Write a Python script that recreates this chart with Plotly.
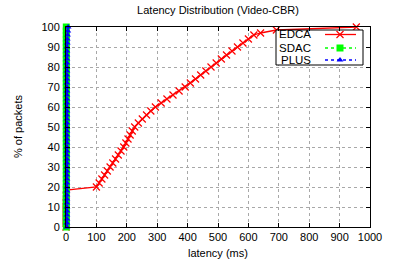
import plotly.graph_objects as go

# ---- data ----
edca_pct = [0, 2, 4, 6, 8, 10, 12, 14, 16, 18.5,
            20, 22, 24, 26, 28, 30, 32, 34, 36, 38, 40, 42, 44, 46, 48, 50,
            52, 54, 56, 58, 60, 62, 64, 66, 68, 70, 72, 74, 76, 78, 80,
            82, 84, 86, 88, 90, 92, 94, 96, 97, 98.5, 100]
edca_lat = [0, 0, 0, 0, 0, 0, 0, 1, 1, 1,
            100, 109, 118, 127, 136, 145, 154, 163, 172, 181, 190, 197, 204, 211, 218, 226,
            238, 251, 265, 279, 294, 313, 332, 352, 372, 392, 409, 426, 443, 460, 477,
            494, 511, 528, 546, 564, 582, 600, 618, 640, 692, 955]

sdac_pct = [0, 2, 4, 6, 8, 10, 12, 14, 16, 18, 20, 22, 24, 26, 28, 30, 32, 34, 36, 38,
            40, 42, 44, 46, 48, 50, 52, 54, 56, 58, 60, 62, 64, 66, 68, 70, 72, 74, 76, 78,
            80, 82, 84, 86, 88, 90, 92, 94, 96, 98, 100]
sdac_lat = [1, 1, 1, 1, 1, 1, 1, 1, 1, 1, 1, 1, 1, 1, 1, 1, 1, 1, 1, 1,
            1, 1, 1, 1, 1, 1, 1, 1, 1, 1, 1, 1, 1, 1, 1, 1, 1, 1, 1, 1,
            1, 1, 1, 1, 1, 1, 1, 1, 1, 1, 1]

plus_pct = [0, 2, 4, 6, 8, 10, 12, 14, 16, 18, 20, 22, 24, 26, 28, 30, 32, 34, 36, 38,
            40, 42, 44, 46, 48, 50, 52, 54, 56, 58, 60, 62, 64, 66, 68, 70, 72, 74, 76, 78,
            80, 82, 84, 86, 88, 90, 92, 94, 96, 98, 100]
plus_lat = [3, 3, 3, 3, 3, 3, 3, 3, 3, 3, 3, 3, 3, 3, 3, 3, 3, 3, 3, 3,
            3, 3, 3, 3, 3, 3, 3, 3, 3, 3, 3, 3, 3, 3, 3, 3, 3, 3, 3, 3,
            3, 3, 3, 3, 3, 3, 4, 4, 5, 6, 7]

x_ticks = [0, 100, 200, 300, 400, 500, 600, 700, 800, 900, 1000]
y_ticks = [0, 10, 20, 30, 40, 50, 60, 70, 80, 90, 100]

series_names = ["EDCA", "SDAC", "PLUS"]

# ---- styles ----
RED = "#ff0000"
GREEN = "#00ff00"
BLUE = "#0000ff"
FONT = "Liberation Sans, Arial, sans-serif"

W, H = 393, 261
L, R, T, B = 66, 23, 27, 34
PW, PH = W - L - R, H - T - B

fig = go.Figure()

fig.add_trace(go.Scatter(
    x=edca_lat, y=edca_pct, mode="lines+markers", name=series_names[0],
    line=dict(color=RED, width=1.3),
    marker=dict(symbol="x-thin", size=7, line=dict(color=RED, width=1.2), color=RED),
    cliponaxis=False, showlegend=False))
fig.add_trace(go.Scatter(
    x=sdac_lat, y=sdac_pct, mode="lines+markers", name=series_names[1],
    line=dict(color=GREEN, width=1.3, dash="dot"),
    marker=dict(symbol="square", size=7, color=GREEN),
    cliponaxis=False, showlegend=False))
fig.add_trace(go.Scatter(
    x=plus_lat, y=plus_pct, mode="lines+markers", name=series_names[2],
    line=dict(color=BLUE, width=1.3, dash="dot"),
    marker=dict(symbol="triangle-up", size=6, color=BLUE),
    cliponaxis=False, showlegend=False))

# ---- custom gnuplot-style key (overlay axes in paper fractions) ----
bx0, bx1 = (276 - L) / PW, (363 - L) / PW
by0, by1 = (H - B - 65) / PH, (H - B - 30) / PH
fig.add_trace(go.Scatter(
    x=[bx0, bx1, bx1, bx0, bx0], y=[by0, by0, by1, by1, by0],
    xaxis="x2", yaxis="y2", mode="lines", fill="toself", fillcolor="white",
    line=dict(color="black", width=1), hoverinfo="skip", showlegend=False,
    cliponaxis=False))
rows = [(H - B - 34.5) / PH, (H - B - 48) / PH, (H - B - 60) / PH]
sx0, sx1, sxm = (325 - L) / PW, (356 - L) / PW, (340 - L) / PW
styles = [
    dict(line=dict(color=RED, width=1.3),
         marker=dict(symbol="x-thin", size=7, line=dict(color=RED, width=1.2), color=RED)),
    dict(line=dict(color=GREEN, width=1.3, dash="dot"),
         marker=dict(symbol="square", size=7, color=GREEN)),
    dict(line=dict(color=BLUE, width=1.3, dash="dot"),
         marker=dict(symbol="triangle-up", size=6, color=BLUE)),
]
for ry, st in zip(rows, styles):
    fig.add_trace(go.Scatter(x=[sx0, sx1], y=[ry, ry], xaxis="x2", yaxis="y2",
                             mode="lines", line=st["line"], hoverinfo="skip", showlegend=False))
    fig.add_trace(go.Scatter(x=[sxm], y=[ry], xaxis="x2", yaxis="y2",
                             mode="markers", marker=st["marker"], hoverinfo="skip",
                             showlegend=False, cliponaxis=False))

annotations = []
tx = (313 - L) / PW
for name, ry in zip(series_names, rows):
    annotations.append(dict(x=tx, y=ry, xref="paper", yref="paper", text=name,
                            showarrow=False, xanchor="right", yanchor="middle",
                            font=dict(family=FONT, size=11.5, color="black")))
annotations.append(dict(x=0.5, y=(H - B - 253) / PH, xref="paper", yref="paper",
                        text="latency (ms)", showarrow=False, xanchor="center",
                        yanchor="middle", font=dict(family=FONT, size=11, color="black")))
annotations.append(dict(x=(18 - L) / PW, y=0.5, xref="paper", yref="paper",
                        text="% of packets", showarrow=False, textangle=-90,
                        xanchor="center", yanchor="middle",
                        font=dict(family=FONT, size=11, color="black")))

axis_common = dict(showline=True, linecolor="black", linewidth=1, mirror="ticks",
                   ticks="inside", ticklen=4, tickcolor="black", tickwidth=1,
                   showgrid=True, gridcolor="#a8a8a8", griddash="dot", gridwidth=1,
                   zeroline=False, tickfont=dict(family=FONT, size=11, color="black"))

fig.update_layout(
    width=W, height=H,
    margin=dict(l=L, r=R, t=T, b=B, autoexpand=False),
    paper_bgcolor="white", plot_bgcolor="white",
    title=dict(text="Latency Distribution (Video-CBR)", x=0.5, xref="paper",
               y=1 - 10 / H, yref="container", xanchor="center", yanchor="middle",
               font=dict(family=FONT, size=11, color="black")),
    xaxis=dict(range=[0, 1000], tickvals=x_ticks, ticktext=[str(v) for v in x_ticks],
               **axis_common),
    yaxis=dict(range=[0, 100], tickvals=y_ticks, ticktext=[str(v) for v in y_ticks],
               ticklabelstandoff=3, **axis_common),
    xaxis2=dict(overlaying="x", range=[0, 1], visible=False, domain=[0, 1]),
    yaxis2=dict(overlaying="y", range=[0, 1], visible=False, domain=[0, 1]),
    annotations=annotations,
    showlegend=False,
    hovermode=False,
)

fig.write_html("out.html", config=dict(displayModeBar=False, staticPlot=True),
               post_script="document.body.style.margin='0';document.body.style.padding='0';")
